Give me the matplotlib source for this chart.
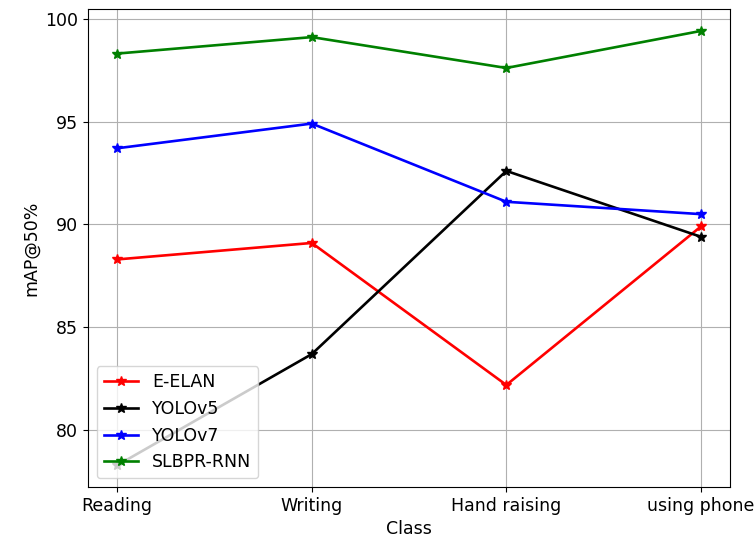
import matplotlib
matplotlib.use("Agg")
import matplotlib.pyplot as plt

# mAP@50% per class for each detector
classes = ["Reading", "Writing", "Hand raising", "using phone"]
e_elan = [88.3, 89.1, 82.2, 89.9]
yolov5 = [78.3, 83.7, 92.6, 89.4]
yolov7 = [93.7, 94.9, 91.1, 90.5]
slbpr_rnn = [98.3, 99.1, 97.6, 99.4]

plt.rcParams['font.size'] = 12.5
plt.rcParams['lines.linewidth'] = 1.9
plt.rcParams['lines.markersize'] = 7.5

fig, ax = plt.subplots(figsize=(7.55, 5.42), dpi=100)
fig.subplots_adjust(left=0.1166, right=0.967, top=0.983, bottom=0.1015)

ax.plot(classes, e_elan, marker='*', color='red', label='E-ELAN')
ax.plot(classes, yolov5, marker='*', color='black', label='YOLOv5')
ax.plot(classes, yolov7, marker='*', color='blue', label='YOLOv7')
ax.plot(classes, slbpr_rnn, marker='*', color='green', label='SLBPR-RNN')

ax.set_xlabel('Class')
ax.set_ylabel('mAP@50%')
ax.grid(True)
ax.legend(loc='lower left')

plt.savefig('out.png', dpi=100)
